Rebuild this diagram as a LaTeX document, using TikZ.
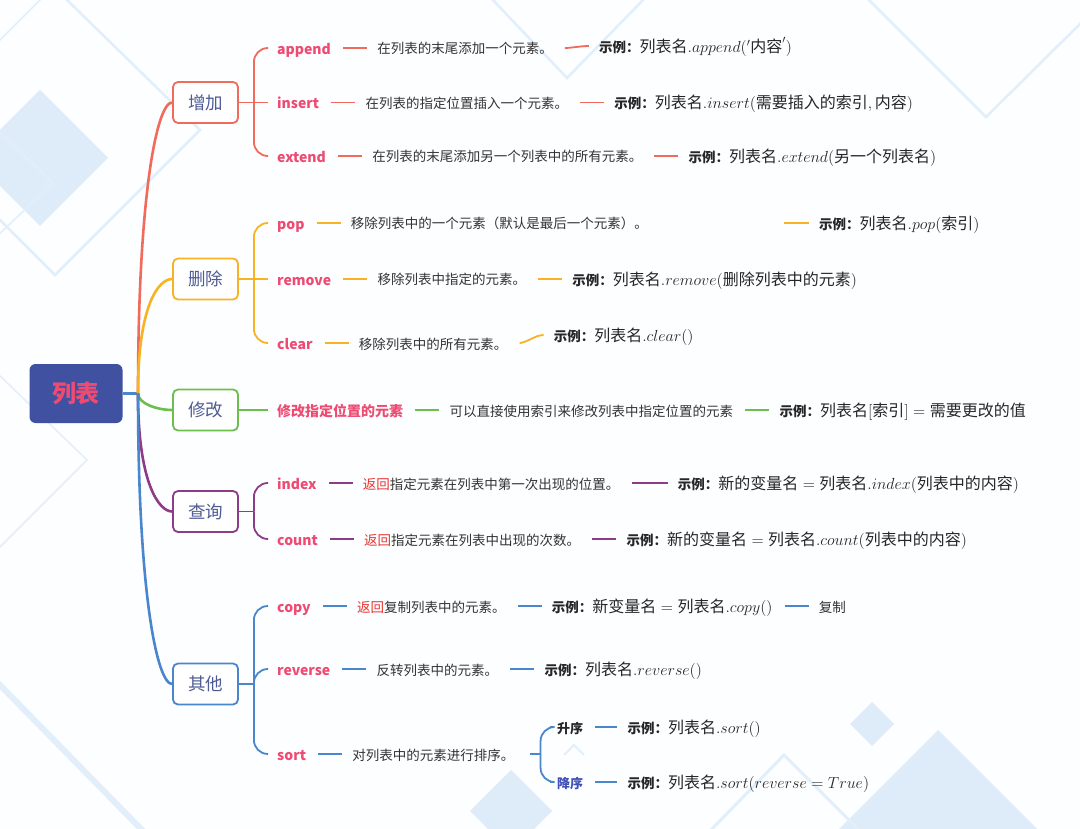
\RequirePackage{fix-cm}
\documentclass[tikz,border=0pt]{standalone}
\usepackage{amsmath}
\usepackage[no-math]{fontspec}
\setmainfont{Noto Sans CJK SC}
\usepackage{tikz}
\usetikzlibrary{positioning}
\definecolor{bgwhite}{HTML}{FDFEFF}
\definecolor{bgblue}{HTML}{DDECF8}
\definecolor{bgline}{HTML}{E2EFFA}
\definecolor{rootblue}{HTML}{3F51A0}
\definecolor{keypink}{HTML}{EE4B72}
\definecolor{catblue}{HTML}{4E5B95}
\definecolor{retred}{HTML}{E8332E}
\definecolor{dscblue}{HTML}{3F51B5}
\definecolor{bred}{HTML}{F06B5B}
\definecolor{borange}{HTML}{F8B325}
\definecolor{bgreen}{HTML}{6CBF4D}
\definecolor{bpurple}{HTML}{8C3C88}
\definecolor{bblue}{HTML}{4A86CC}
\tikzset{
  rootbox/.style={fill=rootblue,rounded corners=6pt,minimum width=93pt,minimum height=59pt,
              text=keypink,font=\bfseries\fontsize{24}{28}\selectfont},
  catbox/.style={draw=#1,line width=1.8pt,fill=white,rounded corners=5pt,minimum width=65pt,
              minimum height=41pt,text=catblue,font=\fontsize{17.5}{20}\selectfont},
  keylbl/.style={anchor=west,inner sep=0pt,text=keypink,font=\bfseries\fontsize{14}{17}\selectfont,
              text height=13.5pt,text depth=0.5pt},
  desclbl/.style={inner sep=0pt,text=black!80,font=\fontsize{13.5}{16}\selectfont,
              text height=12.5pt,text depth=0.5pt},
  eglbl/.style={inner sep=0pt,text=black!85,font=\fontsize{16}{19}\selectfont,
              text height=14pt,text depth=1pt},
  trunk/.style={line width=2.6pt},
  lnk/.style={line width=1.8pt,shorten <=12pt,shorten >=10pt},
  brk/.style={line width=1.8pt,rounded corners=14pt},
}
\newcommand{\eglead}{{\bfseries\fontsize{13.5}{16}\selectfont 示例：}}
\newcommand{\ret}{\textcolor{retred}{返回}}

\begin{document}
\begin{tikzpicture}[x=1pt,y=-1pt]
\useasboundingbox (0,0) rectangle (1080,829);
% background
\begin{scope}
\clip (0,0) rectangle (1080,829);
\fill[bgwhite] (0,0) rectangle (1080,829);
\fill[bgblue] (40,90) -- (108,158) -- (40,226) -- (-28,158) -- cycle;
\draw[bgline,line width=2.5pt] (62,-5) -- (200,130) -- (55,275) -- (-90,130);
\draw[bgline,line width=1.5pt] (-5,45) -- (45,-5);
\draw[bgline,line width=1.5pt] (-5,128) -- (53,183) -- (-5,238);
\draw[bgline,line width=1.5pt] (-5,371) -- (87,460) -- (-5,552);
\draw[bgline,line width=6pt] (-5,680) -- (145,833);
\draw[bgline,line width=2.5pt] (491,-2) -- (567,78) -- (645,-2);
\draw[bgline,line width=2.5pt] (867,-2) -- (986,117) -- (1084,20);
\fill[bgblue] (872,702) -- (894,724) -- (872,746) -- (850,724) -- cycle;
\fill[bgblue] (938,730) -- (1040,832) -- (836,832) -- cycle;
\fill[bgblue] (511,770) -- (552,811) -- (511,852) -- (470,811) -- cycle;
\draw[bgline,line width=3pt] (709,832) -- (784,755) -- (861,832);
\draw[bgline,line width=2pt] (564,755) -- (574,745) -- (584,755);
\end{scope}
% root and categories
\node[rootbox] (lb) at (76,393.5) {列表};
\coordinate (trk) at (138,393.5);
\node[catbox=bred] (zj) at (205.5,102.5) {增加};
\node[catbox=borange] (sc) at (205.5,279) {删除};
\node[catbox=bgreen] (xg) at (205.5,410) {修改};
\node[catbox=bpurple] (cx) at (205.5,511.5) {查询};
\node[catbox=bblue] (qt) at (205.5,684) {其他};
\draw[trunk,bblue] (lb) -- (trk);
\draw[trunk,bred] (trk) to[out=90,in=180,out distance=200pt,in distance=15pt] (zj);
\draw[trunk,borange] (trk) to[out=90,in=180,out distance=90pt,in distance=13pt] (sc);
\draw[trunk,bgreen] (trk) to[out=-90,in=180,out distance=10pt,in distance=15pt] (xg);
\draw[trunk,bpurple] (trk) to[out=-90,in=180,out distance=90pt,in distance=13pt] (cx);
\draw[trunk,bblue] (trk) to[out=-90,in=180,out distance=200pt,in distance=15pt] (qt);
% 增加
\coordinate[right=15pt of zj] (zj-j);
\node[keylbl] (append) at (277,48) {append};
\node[keylbl] (insert) at (277,102.5) {insert};
\node[keylbl] (extend) at (277,156) {extend};
\draw[brk,bred] (zj) -- (zj-j);
\draw[brk,bred] (zj-j) |- ([xshift=-9pt]append.west);
\draw[brk,bred] (zj-j) -- ([xshift=-9pt]insert.west);
\draw[brk,bred] (zj-j) |- ([xshift=-9pt]extend.west);
\node[desclbl,right=46pt of append] (append-d) {在列表的末尾添加一个元素。};
\node[eglbl,right=46pt of append-d,yshift=2pt] (append-e) {\eglead 列表名$.append('\text{内容}')$};
\node[desclbl,right=46pt of insert] (insert-d) {在列表的指定位置插入一个元素。};
\node[eglbl,right=46pt of insert-d] (insert-e) {\eglead 列表名$.insert(\text{需要插入的索引}, \text{内容})$};
\node[desclbl,right=46pt of extend] (extend-d) {在列表的末尾添加另一个列表中的所有元素。};
\node[eglbl,right=46pt of extend-d] (extend-e) {\eglead 列表名$.extend(\text{另一个列表名})$};
\draw[lnk,bred] (append) -- (append-d);
\draw[lnk,bred] (append-d) to[out=0,in=180] (append-e);
\draw[lnk,bred] (insert) -- (insert-d);
\draw[lnk,bred] (insert-d) -- (insert-e);
\draw[lnk,bred] (extend) -- (extend-d);
\draw[lnk,bred] (extend-d) -- (extend-e);
% 删除
\coordinate[right=15pt of sc] (sc-j);
\node[keylbl] (pop) at (277,223) {pop};
\node[keylbl] (remove) at (277,279) {remove};
\node[keylbl] (clear) at (277,343) {clear};
\draw[brk,borange] (sc) -- (sc-j);
\draw[brk,borange] (sc-j) |- ([xshift=-9pt]pop.west);
\draw[brk,borange] (sc-j) -- ([xshift=-9pt]remove.west);
\draw[brk,borange] (sc-j) |- ([xshift=-9pt]clear.west);
\node[desclbl,right=46pt of pop] (pop-d) {移除列表中的一个元素（默认是最后一个元素）。};
\coordinate (pop-gap) at (772,223);
\node[eglbl,anchor=west] (pop-e) at (819,223) {\eglead 列表名$.pop(\text{索引})$};
\node[desclbl,right=46pt of remove] (remove-d) {移除列表中指定的元素。};
\node[eglbl,right=46pt of remove-d] (remove-e) {\eglead 列表名$.remove(\text{删除列表中的元素})$};
\node[desclbl,right=46pt of clear] (clear-d) {移除列表中的所有元素。};
\node[eglbl,right=46pt of clear-d,yshift=8pt] (clear-e) {\eglead 列表名$.clear()$};
\draw[lnk,borange] (pop) -- (pop-d);
\draw[lnk,borange] (pop-gap) -- (pop-e);
\draw[lnk,borange] (remove) -- (remove-d);
\draw[lnk,borange] (remove-d) -- (remove-e);
\draw[lnk,borange] (clear) -- (clear-d);
\draw[lnk,borange] (clear-d) to[out=0,in=180] (clear-e);
% 修改
\node[keylbl] (modify) at (277,410) {修改指定位置的元素};
\node[desclbl,right=46pt of modify] (modify-d) {可以直接使用索引来修改列表中指定位置的元素};
\node[eglbl,right=46pt of modify-d] (modify-e) {\eglead 列表名$[\text{索引}] = \text{需要更改的值}$};
\draw[brk,bgreen] (xg) -- ([xshift=-9pt]modify.west);
\draw[lnk,bgreen] (modify) -- (modify-d);
\draw[lnk,bgreen] (modify-d) -- (modify-e);
% 查询
\coordinate[right=15pt of cx] (cx-j);
\node[keylbl] (index) at (277,483) {index};
\node[keylbl] (count) at (277,539) {count};
\draw[brk,bpurple] (cx) -- (cx-j);
\draw[brk,bpurple] (cx-j) |- ([xshift=-9pt]index.west);
\draw[brk,bpurple] (cx-j) |- ([xshift=-9pt]count.west);
\node[desclbl,right=46pt of index] (index-d) {\ret 指定元素在列表中第一次出现的位置。};
\node[eglbl,right=58pt of index-d] (index-e) {\eglead $\text{新的变量名} = \text{列表名}.index(\text{列表中的内容})$};
\node[desclbl,right=46pt of count] (count-d) {\ret 指定元素在列表中出现的次数。};
\node[eglbl,right=46pt of count-d] (count-e) {\eglead $\text{新的变量名} = \text{列表名}.count(\text{列表中的内容})$};
\draw[lnk,bpurple] (index) -- (index-d);
\draw[lnk,bpurple] (index-d) -- (index-e);
\draw[lnk,bpurple] (count) -- (count-d);
\draw[lnk,bpurple] (count-d) -- (count-e);
% 其他
\coordinate[right=15pt of qt] (qt-j);
\node[keylbl] (copy) at (277,606) {copy};
\node[keylbl] (reverse) at (277,669) {reverse};
\node[keylbl] (sort) at (277,754) {sort};
\draw[brk,bblue] (qt) -- (qt-j);
\draw[brk,bblue] (qt-j) |- ([xshift=-9pt]copy.west);
\draw[brk,bblue] (qt-j) |- ([xshift=-9pt]reverse.west);
\draw[brk,bblue] (qt-j) |- ([xshift=-9pt]sort.west);
\node[desclbl,right=46pt of copy] (copy-d) {\ret 复制列表中的元素。};
\node[eglbl,right=46pt of copy-d] (copy-e) {\eglead $\text{新变量名} = \text{列表名}.copy()$};
\node[desclbl,right=46pt of copy-e] (copy-n) {复制};
\node[desclbl,right=46pt of reverse] (reverse-d) {反转列表中的元素。};
\node[eglbl,right=46pt of reverse-d] (reverse-e) {\eglead 列表名$.reverse()$};
\node[desclbl,right=46pt of sort] (sort-d) {对列表中的元素进行排序。};
\coordinate[right=26pt of sort-d] (sort-j);
\node[keylbl,text=black!85,font=\bfseries\fontsize{13}{16}\selectfont] (asc) at (557,727) {升序};
\node[keylbl,text=dscblue,font=\bfseries\fontsize{13}{16}\selectfont] (dsc) at (557,782) {降序};
\node[eglbl,right=44pt of asc] (asc-e) {\eglead 列表名$.sort()$};
\node[eglbl,right=44pt of dsc] (dsc-e) {\eglead 列表名$.sort(reverse = True)$};
\draw[lnk,bblue] (copy) -- (copy-d);
\draw[lnk,bblue] (copy-d) -- (copy-e);
\draw[lnk,bblue] (copy-e) -- (copy-n);
\draw[lnk,bblue] (reverse) -- (reverse-d);
\draw[lnk,bblue] (reverse-d) -- (reverse-e);
\draw[lnk,bblue] (sort) -- (sort-d);
\draw[brk,bblue,shorten <=15pt] (sort-d) -- (sort-j);
\draw[brk,bblue] (sort-j) |- ([xshift=-7pt]asc.west);
\draw[brk,bblue] (sort-j) |- ([xshift=-7pt]dsc.west);
\draw[lnk,bblue] (asc) -- (asc-e);
\draw[lnk,bblue] (dsc) -- (dsc-e);
\end{tikzpicture}
\end{document}
